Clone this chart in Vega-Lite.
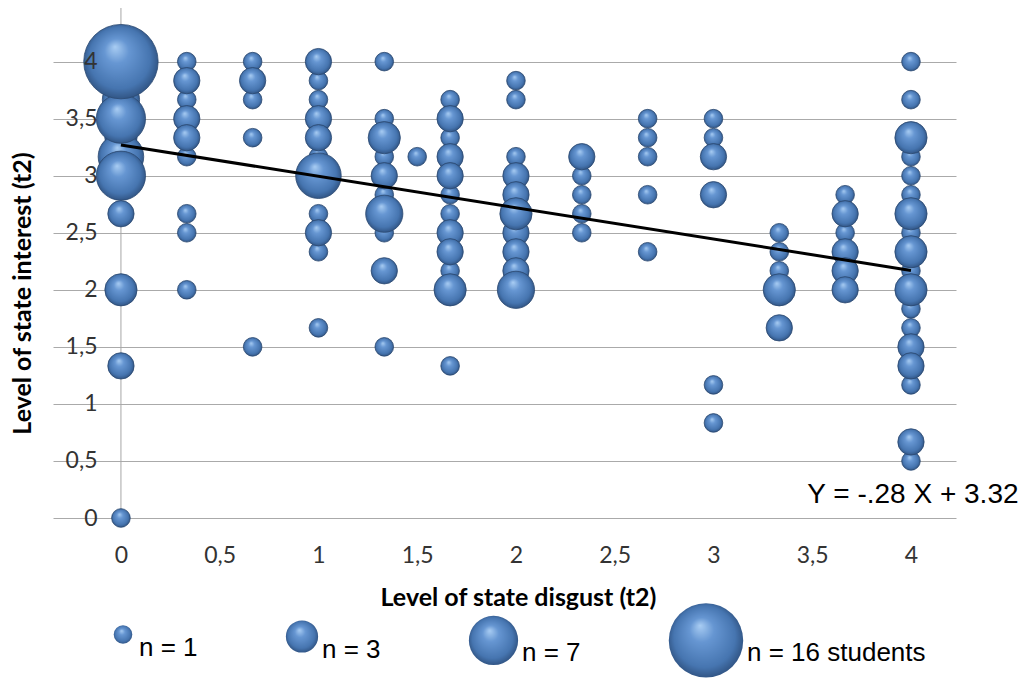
{
  "$schema": "https://vega.github.io/schema/vega-lite/v6.json",
  "width": 903,
  "height": 510,
  "autosize": {"type": "none"},
  "padding": {"left": 53, "top": 8, "right": 66, "bottom": 166},
  "background": "white",
  "config": {
    "view": {"stroke": null},
    "font": "Lato",
    "axis": {"labelFont": "Lato", "labelFontSize": 23, "labelColor": "#333333", "titleFont": "Lato", "titleFontSize": 25, "titleFontWeight": "bold", "titleColor": "#000000"},
    "legend": {"labelFont": "Liberation Sans", "labelFontSize": 26, "labelColor": "#000000", "labelLimit": 400}
  },
  "datasets": {
    "bubbles": [
      {"x": 0, "y": 4, "n": 16}, {"x": 0, "y": 3.6667, "n": 4}, {"x": 0, "y": 3.5, "n": 7}, {"x": 0, "y": 3.3333, "n": 3}, {"x": 0, "y": 3.1667, "n": 6}, {"x": 0, "y": 3, "n": 7}, {"x": 0, "y": 2.6667, "n": 2}, {"x": 0, "y": 2, "n": 3}, {"x": 0, "y": 1.3333, "n": 2}, {"x": 0, "y": 0, "n": 1},
      {"x": 0.3333, "y": 4, "n": 1}, {"x": 0.3333, "y": 3.8333, "n": 2}, {"x": 0.3333, "y": 3.6667, "n": 1}, {"x": 0.3333, "y": 3.5, "n": 2}, {"x": 0.3333, "y": 3.3333, "n": 2}, {"x": 0.3333, "y": 3.1667, "n": 1}, {"x": 0.3333, "y": 2.6667, "n": 1}, {"x": 0.3333, "y": 2.5, "n": 1}, {"x": 0.3333, "y": 2, "n": 1},
      {"x": 0.6667, "y": 4, "n": 1}, {"x": 0.6667, "y": 3.8333, "n": 2}, {"x": 0.6667, "y": 3.6667, "n": 1}, {"x": 0.6667, "y": 3.3333, "n": 1}, {"x": 0.6667, "y": 1.5, "n": 1},
      {"x": 1, "y": 4, "n": 2}, {"x": 1, "y": 3.8333, "n": 1}, {"x": 1, "y": 3.6667, "n": 1}, {"x": 1, "y": 3.5, "n": 2}, {"x": 1, "y": 3.3333, "n": 2}, {"x": 1, "y": 3.1667, "n": 1}, {"x": 1, "y": 3, "n": 6}, {"x": 1, "y": 2.6667, "n": 1}, {"x": 1, "y": 2.5, "n": 2}, {"x": 1, "y": 2.3333, "n": 1}, {"x": 1, "y": 1.6667, "n": 1},
      {"x": 1.3333, "y": 4, "n": 1}, {"x": 1.3333, "y": 3.5, "n": 1}, {"x": 1.3333, "y": 3.3333, "n": 3}, {"x": 1.3333, "y": 3.1667, "n": 1}, {"x": 1.3333, "y": 3, "n": 2}, {"x": 1.3333, "y": 2.8333, "n": 1}, {"x": 1.3333, "y": 2.6667, "n": 4}, {"x": 1.3333, "y": 2.5, "n": 1}, {"x": 1.3333, "y": 2.1667, "n": 2}, {"x": 1.3333, "y": 1.5, "n": 1},
      {"x": 1.5, "y": 3.1667, "n": 1},
      {"x": 1.6667, "y": 3.6667, "n": 1}, {"x": 1.6667, "y": 3.5, "n": 2}, {"x": 1.6667, "y": 3.3333, "n": 1}, {"x": 1.6667, "y": 3.1667, "n": 2}, {"x": 1.6667, "y": 3, "n": 2}, {"x": 1.6667, "y": 2.8333, "n": 1}, {"x": 1.6667, "y": 2.6667, "n": 1}, {"x": 1.6667, "y": 2.5, "n": 2}, {"x": 1.6667, "y": 2.3333, "n": 2}, {"x": 1.6667, "y": 2.1667, "n": 1}, {"x": 1.6667, "y": 2, "n": 3}, {"x": 1.6667, "y": 1.3333, "n": 1},
      {"x": 2, "y": 3.8333, "n": 1}, {"x": 2, "y": 3.6667, "n": 1}, {"x": 2, "y": 3.1667, "n": 1}, {"x": 2, "y": 3, "n": 2}, {"x": 2, "y": 2.8333, "n": 2}, {"x": 2, "y": 2.6667, "n": 3}, {"x": 2, "y": 2.5, "n": 2}, {"x": 2, "y": 2.3333, "n": 2}, {"x": 2, "y": 2.1667, "n": 2}, {"x": 2, "y": 2, "n": 4},
      {"x": 2.3333, "y": 3.1667, "n": 2}, {"x": 2.3333, "y": 3, "n": 1}, {"x": 2.3333, "y": 2.8333, "n": 1}, {"x": 2.3333, "y": 2.6667, "n": 1}, {"x": 2.3333, "y": 2.5, "n": 1},
      {"x": 2.6667, "y": 3.5, "n": 1}, {"x": 2.6667, "y": 3.3333, "n": 1}, {"x": 2.6667, "y": 3.1667, "n": 1}, {"x": 2.6667, "y": 2.8333, "n": 1}, {"x": 2.6667, "y": 2.3333, "n": 1},
      {"x": 3, "y": 3.5, "n": 1}, {"x": 3, "y": 3.3333, "n": 1}, {"x": 3, "y": 3.1667, "n": 2}, {"x": 3, "y": 2.8333, "n": 2}, {"x": 3, "y": 1.1667, "n": 1}, {"x": 3, "y": 0.8333, "n": 1},
      {"x": 3.3333, "y": 2.5, "n": 1}, {"x": 3.3333, "y": 2.3333, "n": 1}, {"x": 3.3333, "y": 2.1667, "n": 1}, {"x": 3.3333, "y": 2, "n": 3}, {"x": 3.3333, "y": 1.6667, "n": 2},
      {"x": 3.6667, "y": 2.8333, "n": 1}, {"x": 3.6667, "y": 2.6667, "n": 2}, {"x": 3.6667, "y": 2.5, "n": 1}, {"x": 3.6667, "y": 2.3333, "n": 2}, {"x": 3.6667, "y": 2.1667, "n": 2}, {"x": 3.6667, "y": 2, "n": 2},
      {"x": 4, "y": 4, "n": 1}, {"x": 4, "y": 3.6667, "n": 1}, {"x": 4, "y": 3.3333, "n": 3}, {"x": 4, "y": 3.1667, "n": 1}, {"x": 4, "y": 3, "n": 1}, {"x": 4, "y": 2.8333, "n": 1}, {"x": 4, "y": 2.6667, "n": 3}, {"x": 4, "y": 2.5, "n": 1}, {"x": 4, "y": 2.3333, "n": 3}, {"x": 4, "y": 2.1667, "n": 1}, {"x": 4, "y": 2, "n": 3}, {"x": 4, "y": 1.8333, "n": 1}, {"x": 4, "y": 1.6667, "n": 1}, {"x": 4, "y": 1.5, "n": 2}, {"x": 4, "y": 1.3333, "n": 2}, {"x": 4, "y": 1.1667, "n": 1}, {"x": 4, "y": 0.6667, "n": 2}, {"x": 4, "y": 0.5, "n": 1}
    ],
    "fit": [{"x": 0, "y": 3.27}, {"x": 4, "y": 2.17}],
    "eq": [{"x": 4.01, "y": 0.2, "label": "Y = -.28 X + 3.32"}],
    "axis0": [{"x": 0}]
  },
  "layer": [
    {
      "data": {"name": "axis0"},
      "mark": {"type": "rule", "color": "#a6a6a6", "strokeWidth": 1},
      "encoding": {
        "x": {"field": "x", "type": "quantitative", "scale": {"domain": [-0.344, 4.228]},
          "axis": {"title": "Level of state disgust (t2)", "values": [0, 0.5, 1, 1.5, 2, 2.5, 3, 3.5, 4], "grid": false, "domain": false, "ticks": false,
            "labelPadding": 26, "labelFontSize": 23,
            "labelExpr": "replace(format(datum.value, '~g'), '.', ',')",
            "titleFontSize": 25, "titleFontWeight": "bold",
            "titleX": 465, "titleY": 79, "titleBaseline": "middle", "titleAlign": "center"}}
      }
    },
    {
      "data": {"name": "bubbles"},
      "mark": {
        "type": "circle",
        "opacity": 1,
        "fill": {"gradient": "radial", "x1": 0.42, "y1": 0.3, "r1": 0, "x2": 0.5, "y2": 0.5, "r2": 0.55,
          "stops": [{"offset": 0, "color": "#a9cdf3"}, {"offset": 0.3, "color": "#6696d2"}, {"offset": 0.75, "color": "#4675b0"}, {"offset": 1, "color": "#2a4a76"}]},
        "stroke": "#2b4870",
        "strokeWidth": 1,
        "strokeOpacity": 0.8
      },
      "encoding": {
        "x": {"field": "x", "type": "quantitative", "scale": {"domain": [-0.344, 4.228]}},
        "y": {"field": "y", "type": "quantitative", "scale": {"domain": [0, 4.47]},
          "axis": {"title": null, "values": [0, 0.5, 1, 1.5, 2, 2.5, 3, 3.5, 4], "grid": true, "gridColor": "#aaaaaa", "gridWidth": 1, "labels": false, "domain": false, "ticks": false, "zindex": 0}},
        "size": {"field": "n", "type": "quantitative", "scale": {"domain": [0, 16], "range": [0, 5540]},
          "legend": {"orient": "none", "legendX": 57, "legendY": 594, "direction": "horizontal", "title": null,
            "values": [1, 3, 7, 16],
            "labelExpr": "datum.value == 16 ? 'n = 16 students' : 'n = ' + datum.value",
            "labelFontSize": 26, "labelOffset": 3, "labelLimit": 400, "labelBaseline": "top",
            "columnPadding": 85, "symbolType": "circle",
            "symbolFillColor": "#4f81bd", "symbolStrokeColor": "#2b4870", "symbolStrokeWidth": 1, "symbolOpacity": 1,
            "encode": {
              "symbols": {"update": {
                "fill": {"value": {"gradient": "radial", "x1": 0.42, "y1": 0.3, "r1": 0, "x2": 0.5, "y2": 0.5, "r2": 0.55,
                  "stops": [{"offset": 0, "color": "#a9cdf3"}, {"offset": 0.3, "color": "#6696d2"}, {"offset": 0.75, "color": "#4675b0"}, {"offset": 1, "color": "#2a4a76"}]}}}}
            }
          }},
        "order": {"field": "n", "type": "quantitative", "sort": "ascending"}
      }
    },
    {
      "data": {"name": "fit"},
      "mark": {"type": "line", "color": "#000000", "strokeWidth": 3},
      "encoding": {
        "x": {"field": "x", "type": "quantitative", "scale": {"domain": [-0.344, 4.228]}},
        "y": {"field": "y", "type": "quantitative", "scale": {"domain": [0, 4.47]},
          "axis": {"title": "Level of state interest (t2)", "orient": "left", "values": [0, 0.5, 1, 1.5, 2, 2.5, 3, 3.5, 4], "grid": false, "domain": false, "ticks": false, "zindex": 1,
            "labelPadding": -44, "labelFontSize": 23,
            "labelExpr": "replace(format(datum.value, '~g'), '.', ',')",
            "titleFontSize": 25, "titleFontWeight": "bold",
            "titleX": -31, "titleY": 285, "titleAngle": -90, "titleBaseline": "middle", "titleAlign": "center"}}
      }
    },
    {
      "data": {"name": "eq"},
      "mark": {"type": "text", "font": "Liberation Sans", "fontSize": 28, "color": "#000000", "align": "center", "baseline": "middle"},
      "encoding": {
        "x": {"field": "x", "type": "quantitative", "scale": {"domain": [-0.344, 4.228]}},
        "y": {"field": "y", "type": "quantitative", "scale": {"domain": [0, 4.47]}, "axis": null},
        "text": {"field": "label"}
      }
    }
  ],
  "resolve": {"axis": {"y": "independent"}}
}
